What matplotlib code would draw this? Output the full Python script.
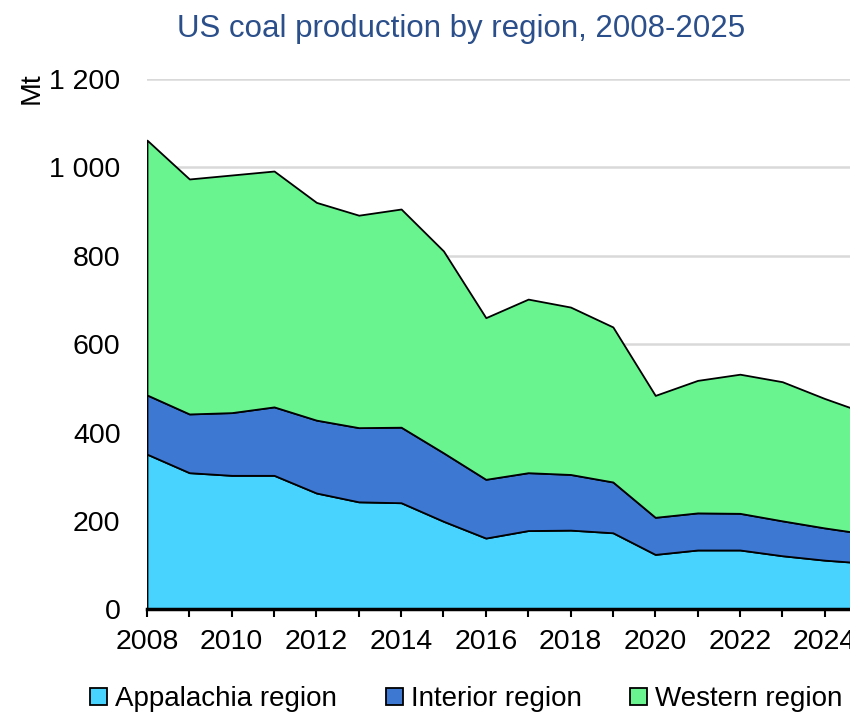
import matplotlib.pyplot as plt

plt.rcParams['font.family'] = ['Liberation Sans', 'DejaVu Sans']

years = list(range(2008, 2026))
# cumulative tops (Mt)
appalachia = [351, 309, 303, 303, 263, 243, 241, 199, 161, 178, 179, 173, 124, 134, 134, 121, 111, 104]
interior_top = [485, 442, 445, 458, 428, 411, 412, 354, 294, 309, 305, 288, 208, 218, 217, 200, 184, 170]
total = [1062, 974, 983, 992, 921, 892, 906, 811, 660, 702, 684, 639, 484, 518, 532, 515, 477, 443]

interior = [b - a for a, b in zip(appalachia, interior_top)]
western = [t - b for b, t in zip(interior_top, total)]

labels = ['Appalachia region', 'Interior region', 'Western region']
colors = ['#48D3FF', '#3D78D2', '#69F490']
yticks = [0, 200, 400, 600, 800, 1000, 1200]
ytick_labels = ['0', '200', '400', '600', '800', '1 000', '1 200']

fig = plt.figure(figsize=(8.5, 7.15), dpi=100)
ax = fig.add_axes([147 / 850, 0.148, 720 / 850, 0.7413])

polys = ax.stackplot(years, appalachia, interior, western, colors=colors,
                     edgecolor='black', linewidth=1.3, labels=labels, zorder=2)

ax.set_xlim(2008, 2025)
ax.set_ylim(0, 1200)
ax.set_yticks(yticks)
ax.set_yticklabels(ytick_labels)
ax.set_xticks(range(2008, 2026))
ax.set_xticklabels([str(y) if y % 2 == 0 else '' for y in range(2008, 2026)])
ax.tick_params(axis='y', length=0, pad=19, labelsize=20.5)
ax.tick_params(axis='x', length=6, width=1.5, direction='out', pad=8, labelsize=20.5)
ax.yaxis.grid(True, color='#D9D9D9', linewidth=1.8, zorder=0)
ax.set_axisbelow(True)
for s in ['left', 'right', 'top']:
    ax.spines[s].set_visible(False)
ax.spines['bottom'].set_linewidth(2.5)
ax.spines['bottom'].set_zorder(3)

fig.text(0.542, 0.959, 'US coal production by region, 2008-2025', ha='center', va='center',
         fontsize=22.5, color='#2B4F8A')
fig.text(32 / 850, 1 - 88 / 715, 'Mt', rotation=90, ha='center', va='center', fontsize=20.5)

fig.legend(handles=polys, labels=labels, loc='center', bbox_to_anchor=(0.549, 0.022),
           ncol=3, frameon=False, fontsize=20, handlelength=0.6, handleheight=0.6,
           handletextpad=0.3, columnspacing=1.75, borderaxespad=0)

fig.savefig('out.png', dpi=100)
